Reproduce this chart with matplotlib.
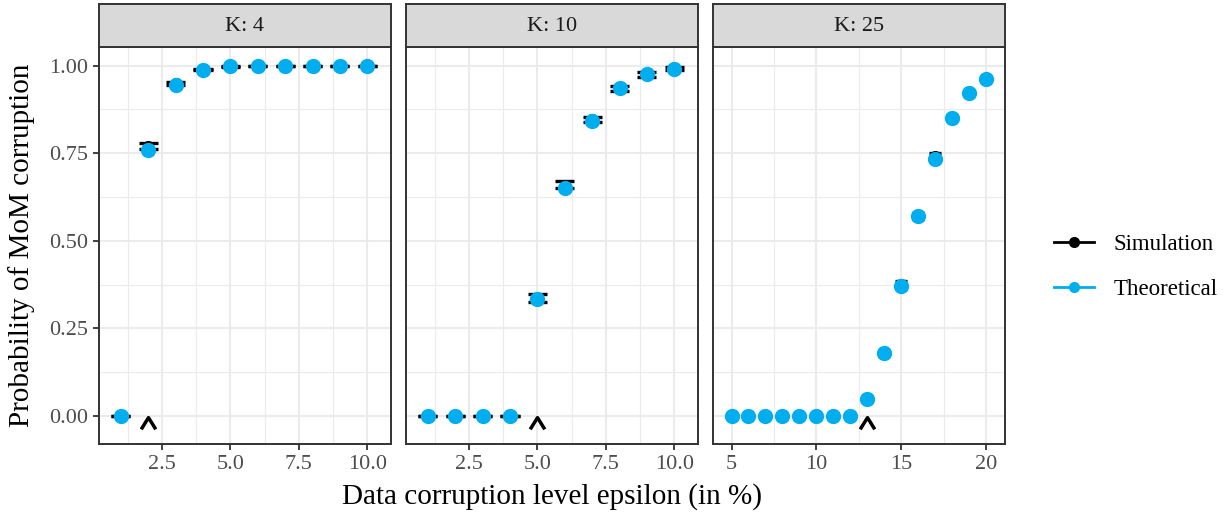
import matplotlib
matplotlib.use("Agg")
import matplotlib.pyplot as plt
from matplotlib.lines import Line2D
from matplotlib.path import Path
from matplotlib.ticker import MultipleLocator

plt.rcParams['font.family'] = ['Liberation Serif', 'DejaVu Serif']

# facet labels
panel_titles = ['K: 4', 'K: 10', 'K: 25']

# K = 4
eps_k4 = [1, 2, 3, 4, 5, 6, 7, 8, 9, 10]
theo_k4 = [0.0, 0.758, 0.945, 0.988, 0.998, 1.0, 1.0, 1.0, 1.0, 1.0]
sim_k4 = [0.0, 0.771, 0.950, 0.989, 0.998, 1.0, 1.0, 1.0, 1.0, 1.0]
ci_k4 = [0.0, 0.0085, 0.004, 0.002, 0.001, 0.0, 0.0, 0.0, 0.0, 0.0]

# K = 10
eps_k10 = [1, 2, 3, 4, 5, 6, 7, 8, 9, 10]
theo_k10 = [0.0, 0.0, 0.0, 0.0, 0.334, 0.650, 0.842, 0.935, 0.975, 0.991]
sim_k10 = [0.0, 0.0, 0.0, 0.0, 0.336, 0.660, 0.847, 0.935, 0.975, 0.991]
ci_k10 = [0.0, 0.0, 0.0, 0.0, 0.0115, 0.010, 0.0075, 0.0065, 0.007, 0.004]

# K = 25
eps_k25 = [5, 6, 7, 8, 9, 10, 11, 12, 13, 14, 15, 16, 17, 18, 19, 20]
theo_k25 = [0.0, 0.0, 0.0, 0.0, 0.0, 0.0, 0.0, 0.0,
            0.048, 0.179, 0.372, 0.570, 0.734, 0.851, 0.922, 0.962]
sim_k25 = [0.0, 0.0, 0.0, 0.0, 0.0, 0.0, 0.0, 0.0,
           0.049, 0.179, 0.377, 0.571, 0.741, 0.853, 0.923, 0.963]
ci_k25 = [0.0, 0.0, 0.0, 0.0, 0.0, 0.0, 0.0, 0.0,
          0.004, 0.007, 0.008, 0.008, 0.009, 0.005, 0.004, 0.003]

# breakdown markers (arrows under the axis)
arrow_x = [2, 5, 13]
arrow_y = -0.019

data = [
    (eps_k4, theo_k4, sim_k4, ci_k4),
    (eps_k10, theo_k10, sim_k10, ci_k10),
    (eps_k25, theo_k25, sim_k25, ci_k25),
]
xlims = [(0.2, 10.86), (0.2, 10.86), (3.91, 21.1)]
xmajor = [2.5, 2.5, 5]
blue = '#00AEEF'
dark = '#333333'

W, H = 1227, 518
fig = plt.figure(figsize=(W / 100, H / 100), dpi=100)

panel_left = [99.0, 406.0, 713.0]
panel_w = 291.8
panel_top, panel_bot = 46.7, 444.0
strip_top = 3.5

chevron = Path([(-1.0, -0.8), (0.0, 0.8), (1.0, -0.8)],
               [Path.MOVETO, Path.LINETO, Path.LINETO])

for i, (xs, theo, sim, ci) in enumerate(data):
    l = panel_left[i]
    ax = fig.add_axes([l / W, 1 - panel_bot / H, panel_w / W, (panel_bot - panel_top) / H])
    st = fig.add_axes([l / W, 1 - panel_top / H, panel_w / W, (panel_top - strip_top) / H])

    # error bars of the simulation
    lo = [s - c for s, c in zip(sim, ci)]
    hi = [s + c for s, c in zip(sim, ci)]
    ax.vlines(xs, lo, hi, color='black', lw=2, zorder=2)
    ax.hlines(lo, [x - 0.35 for x in xs], [x + 0.35 for x in xs], color='black', lw=2.4, zorder=2)
    ax.hlines(hi, [x - 0.35 for x in xs], [x + 0.35 for x in xs], color='black', lw=2.4, zorder=2)
    ax.plot(xs, sim, 'o', color='black', ms=7, zorder=3)
    ax.plot(xs, theo, 'o', color=blue, ms=10, zorder=4)

    ax.plot([arrow_x[i]], [arrow_y], ls='none', marker=chevron, ms=10.5,
            mfc='none', mec='black', mew=2.5, zorder=5)

    ax.set_xlim(*xlims[i])
    ax.set_ylim(-0.08, 1.054)
    ax.xaxis.set_major_locator(MultipleLocator(xmajor[i]))
    ax.xaxis.set_minor_locator(MultipleLocator(xmajor[i] / 2))
    ax.yaxis.set_major_locator(MultipleLocator(0.25))
    ax.yaxis.set_minor_locator(MultipleLocator(0.125))
    if xmajor[i] == 2.5:
        ax.xaxis.set_major_formatter(plt.FuncFormatter(lambda v, p: f'{v:.1f}'))
    else:
        ax.xaxis.set_major_formatter(plt.FuncFormatter(lambda v, p: f'{v:.0f}'))
    ax.yaxis.set_major_formatter(plt.FuncFormatter(lambda v, p: f'{v:.2f}'))

    ax.grid(which='major', color='#EBEBEB', lw=1.5)
    ax.grid(which='minor', color='#EBEBEB', lw=0.8)
    ax.set_axisbelow(True)
    for sp in ax.spines.values():
        sp.set_color(dark)
        sp.set_linewidth(1.4)
    ax.tick_params(which='major', direction='out', length=4, width=1.3, color=dark,
                   labelsize=16, labelcolor='#4D4D4D', pad=4)
    ax.tick_params(which='minor', length=0)
    if i > 0:
        ax.tick_params(axis='y', left=False, labelleft=False)

    st.set_facecolor('#D9D9D9')
    st.set_xticks([])
    st.set_yticks([])
    for sp in st.spines.values():
        sp.set_color(dark)
        sp.set_linewidth(1.4)
    st.text(0.5, 0.47, panel_titles[i], ha='center', va='center',
            fontsize=16, color='#1A1A1A', transform=st.transAxes)

fig.text(552 / W, 1 - 497 / H, 'Data corruption level epsilon (in %)',
         ha='center', va='center', fontsize=21)
fig.text(22 / W, 1 - 245 / H, 'Probability of MoM corruption',
         ha='center', va='center', rotation=90, fontsize=21)

handles = [
    Line2D([], [], color='black', lw=2, marker='o', ms=7),
    Line2D([], [], color=blue, lw=2, marker='o', ms=7),
]
fig.legend(handles, ['Simulation', 'Theoretical'], loc='center left',
           bbox_to_anchor=(1033 / W, 1 - 267 / H), frameon=False,
           fontsize=16.5, handlelength=1.75, handletextpad=0.85, labelspacing=1.05)

fig.savefig('out.png', dpi=100)
